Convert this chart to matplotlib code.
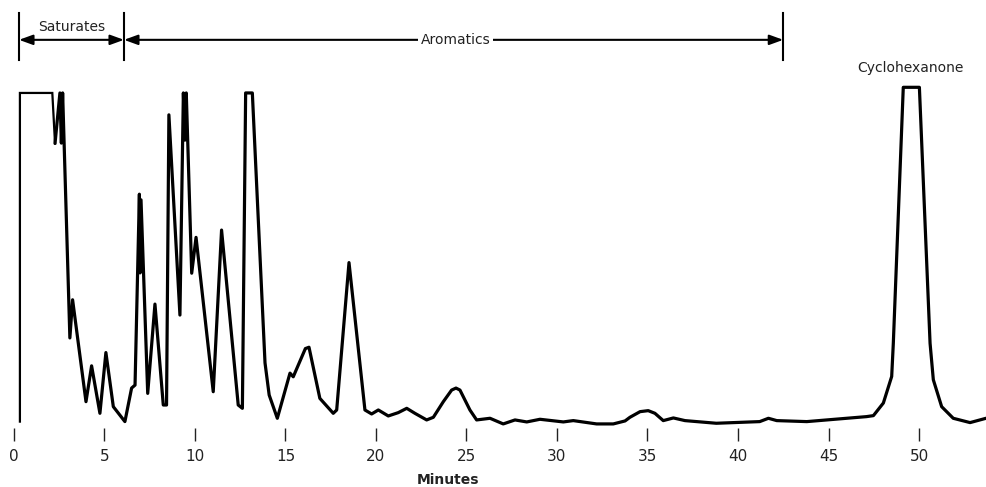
import matplotlib.pyplot as plt

# retention time (min) and detector signal (% of full scale)
minutes = [0.33, 0.33, 2.12, 2.27, 2.54, 2.62, 2.69, 3.09, 3.24, 3.98, 4.29, 4.75,
           5.08, 5.49, 6.13, 6.5, 6.69, 6.93, 6.97, 7.02, 7.39, 7.79, 8.25, 8.43,
           8.56, 9.17, 9.36, 9.45, 9.52, 9.82, 10.06, 11.01, 11.47, 12.39, 12.62,
           12.80, 13.17, 13.87, 14.1, 14.55, 15.25, 15.43, 16.1, 16.3, 16.9, 17.64,
           17.83, 18.51, 19.39, 19.76, 20.13, 20.68, 21.23, 21.7, 22.15, 22.8,
           23.17, 23.72, 24.18, 24.42, 24.64, 25.19, 25.56, 26.3, 27.03, 27.68,
           28.33, 29.06, 30.35, 30.9, 32.19, 33.11, 33.76, 34.03, 34.59, 35.04,
           35.41, 35.87, 36.43, 37.07, 38.8, 41.2, 41.68, 42.14, 43.8, 47.1,
           47.48, 48.03, 48.49, 48.58, 49.13, 50.02, 50.61, 50.79, 51.25, 51.89,
           52.82, 53.7]
signal = [1.0, 100, 100, 84.8, 100, 84.9, 100, 26.2, 37.7, 7.0, 17.8, 3.5,
          21.8, 5.5, 1.0, 11.1, 12.0, 69.5, 45.8, 67.8, 9.5, 36.4, 6.0, 6.0,
          93.4, 33.1, 100, 85.8, 100, 45.7, 56.5, 10.0, 58.7, 6.0, 5.0,
          100, 100, 18.7, 9.0, 2.0, 15.6, 14.5, 23.0, 23.4, 8.0, 3.5,
          4.5, 48.9, 4.5, 3.3, 4.5, 2.7, 3.7, 5.0, 3.5, 1.5,
          2.3, 7.0, 10.5, 11.1, 10.5, 4.5, 1.5, 2.0, 0.3, 1.5,
          0.9, 1.7, 0.9, 1.3, 0.3, 0.3, 1.2, 2.3, 4.0, 4.3,
          3.5, 1.3, 2.1, 1.3, 0.5, 1.0, 2.0, 1.3, 1.0, 2.5,
          2.8, 6.6, 14.6, 24.6, 101.7, 101.7, 24.6, 13.6, 5.5, 2.0,
          0.7, 2.0]

xticks = [0, 5, 10, 15, 20, 25, 30, 35, 40, 45, 50]

# fraction boundaries (min)
sat_start, sat_end, aro_end = 0.28, 6.08, 42.5

fig = plt.figure(figsize=(9.86, 4.87), dpi=100)
ax = fig.add_axes([0, 0, 1, 1])
# off-scale solvent front is drawn thinner
ax.plot(minutes[:4], signal[:4], color='black', lw=1.6, solid_joinstyle='miter')
ax.plot(minutes[3:], signal[3:], color='black', lw=2.3, solid_joinstyle='round',
        solid_capstyle='round')

ax.set_xlim(-0.77, 53.7)
ax.set_ylim(-18.7, 128)

for s in ['top', 'left', 'right']:
    ax.spines[s].set_visible(False)
ax.spines['bottom'].set_position(('data', -0.9))
ax.spines['bottom'].set_visible(False)
ax.set_yticks([])
ax.set_xticks(xticks)
ax.tick_params(axis='x', direction='out', length=9, width=1.0, pad=6,
               labelsize=11, colors='#222222')
ax.text(24.0, -16.5, 'Minutes', ha='center', va='center', fontsize=10,
        fontweight='bold', color='#222222')

# fraction brackets
y_arr = 116
for xb in [sat_start, sat_end, aro_end]:
    ax.plot([xb, xb], [110, 124], color='black', lw=1.5)
arrow = dict(arrowstyle='<|-|>,head_length=0.55,head_width=0.2', color='black',
             lw=1.5, shrinkA=0, shrinkB=0, mutation_scale=15)
ax.annotate('', xy=(sat_start, y_arr), xytext=(sat_end, y_arr), arrowprops=arrow)
ax.annotate('', xy=(sat_end, y_arr), xytext=(aro_end, y_arr), arrowprops=arrow)
ax.text((sat_start + sat_end) / 2, 120, 'Saturates', ha='center', va='center',
        fontsize=10, color='#222222')
ax.text(24.4, y_arr, 'Aromatics', ha='center', va='center', fontsize=10,
        color='#222222', bbox=dict(facecolor='white', edgecolor='none', pad=2))
ax.text(49.5, 107.5, 'Cyclohexanone', ha='center', va='center', fontsize=10,
        color='#222222')

fig.savefig('out.png', dpi=100)
